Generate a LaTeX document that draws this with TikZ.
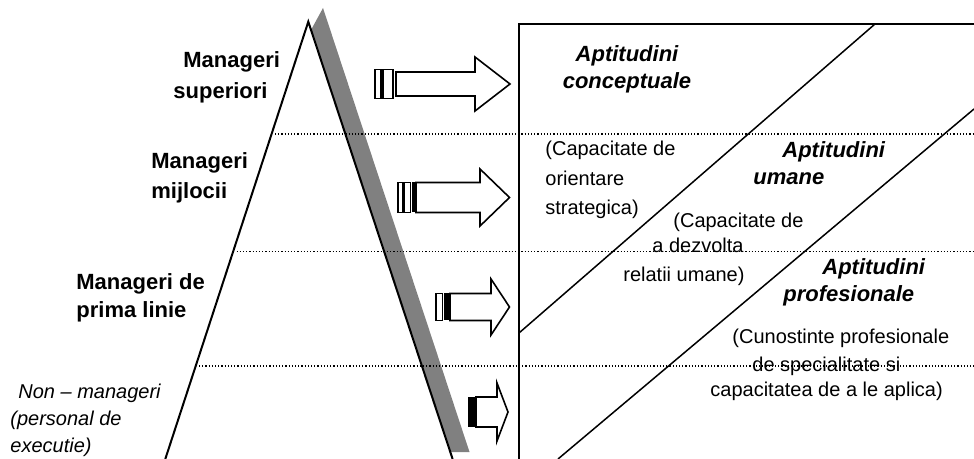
\documentclass[tikz,border=0pt]{standalone}
\usepackage{fontspec}
\setmainfont{Liberation Sans}
\usepackage{xcolor}
\colorlet{colShadow}{black!50}
\colorlet{colGuide}{black}
\usepackage{tikz}
\usetikzlibrary{calc}

\newcommand{\blockarrow}[6]{%
	\draw[arrowline] (#1,#4-#5) -- (#2,#4-#5) -- (#2,#4-#6) -- (#3,#4) -- (#2,#4+#6) -- (#2,#4+#5) -- (#1,#4+#5) -- cycle;}

\begin{document}
\begin{tikzpicture}[x=0.5pt, y=-0.5pt,
		arrowline/.style={draw=black, line width=0.8pt, fill=white},
		guide/.style={draw=colGuide, line width=0.6pt, dash pattern=on 0.6pt off 1pt},
		lvl/.style={font=\fontsize{11}{15.5}\selectfont\bfseries, align=left, inner sep=0pt, anchor=base west},
		skill/.style={font=\fontsize{11}{13.5}\selectfont\bfseries\itshape, align=left, inner sep=0pt, anchor=base west},
		desc/.style={font=\fontsize{10}{13.5}\selectfont, align=left, inner sep=0pt, anchor=base west}]
	\useasboundingbox (0,0) rectangle (974,459);
	\coordinate (apex) at (308.3,21.7);
	\coordinate (leftFoot) at (165.3,459);
	\coordinate (rightFoot) at (452.6,459);
	% pyramid with its shadow
	\fill[colShadow] (323,8) -- (469.5,452) -- (450.3,452) -- (311,30) -- cycle;
	\fill[white] (leftFoot) -- (apex) -- (rightFoot) -- cycle;
	\draw[line width=1pt] (leftFoot) -- (apex) -- (rightFoot);
	\draw[guide] (275,134) -- (974,134);
	\draw[guide] (236.5,251.5) -- (974,251.5);
	\draw[guide] (199,366) -- (974,366);
	% striped arrows
	\draw[arrowline] (375,69.5) rectangle (381,98.5);
	\draw[arrowline] (383,69.5) rectangle (393,98.5);
	\blockarrow{396}{475}{510}{84}{12}{27}
	\draw[arrowline] (398,182.5) rectangle (402.5,212.5);
	\draw[arrowline] (404,182.5) rectangle (410.5,212.5);
	\fill (411.5,182.5) rectangle (416,212.5);
	\blockarrow{416}{480}{509.5}{197.5}{15}{28.5}
	\draw[arrowline] (436,293.5) rectangle (442.5,320.5);
	\fill (444,293.5) rectangle (450,320.5);
	\blockarrow{450}{491}{509.5}{307}{13.5}{28}
	\fill (468,397) rectangle (476,427);
	\blockarrow{476}{497}{508}{412}{15}{29}
	% skills box
	\draw[line width=1pt] (519,459) -- (519,24) -- (974,24);
	\draw[line width=0.75pt] (875,24) -- (519,333);
	\draw[line width=0.75pt] (974,109) -- (558,459);
	\node[lvl] (supText) at (173,99) {\hspace*{5pt}Manageri\\superiori};
	\node[lvl] (midText) at (151,199) {Manageri\\[-0.5pt]mijlocii};
	\node[lvl] (firstText) at (76,318) {Manageri de\\[-1.5pt]prima linie};
	\node[desc, font=\fontsize{10}{13.5}\selectfont\itshape] (nonText) at (10,452) {\hspace*{4pt}Non -- manageri\\(personal de\\executie)};
	\node[skill, align=center, anchor=base] (conceptText) at (627,89) {Aptitudini\\conceptuale};
	\node[desc] (strategDesc) at (545,215) {(Capacitate de\\[1.25pt]orientare\\[1.25pt]strategica)};
	\node[skill] (humanText) at (753,185) {\hspace*{14.5pt}Aptitudini\\umane};
	\node[desc] (humanDesc) at (623,282) {\hspace*{25pt}(Capacitate de\\[-1pt]\hspace*{14.5pt}a dezvolta\\[1pt]relatii umane)};
	\node[skill] (profText) at (783,302) {\hspace*{19.5pt}Aptitudini\\profesionale};
	\node[desc] (profDesc) at (710,397) {\hspace*{11pt}(Cunostinte profesionale\\\hspace*{21pt}de specialitate si\\[-0.5pt]capacitatea de a le aplica)};
\end{tikzpicture}
\end{document}
